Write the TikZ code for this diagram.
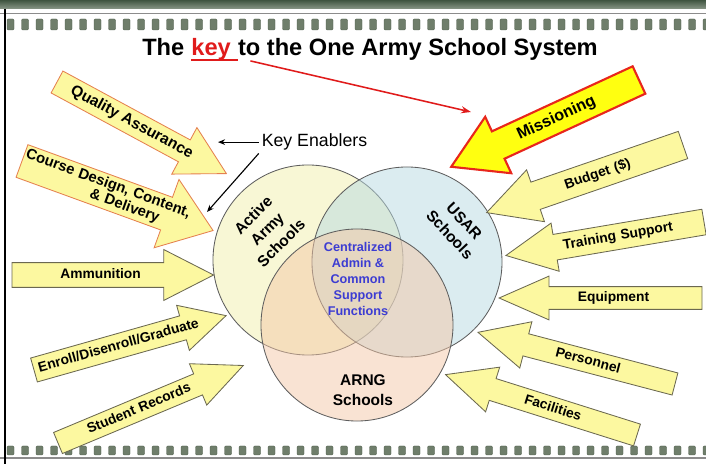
\documentclass[tikz,border=0pt]{standalone}
\usepackage{fontspec}
\setmainfont{Liberation Sans}
\setsansfont{Liberation Sans}
\usetikzlibrary{arrows.meta, shapes.arrows}
\definecolor{paleyellow}{HTML}{FCF8A0}
\definecolor{brightyellow}{HTML}{FFFF10}
\definecolor{edgegrey}{HTML}{6B6850}
\definecolor{orangeedge}{HTML}{E5804F}
\definecolor{missred}{HTML}{E8261C}
\definecolor{keyred}{HTML}{E01B1B}
\definecolor{ringgrey}{HTML}{5E5E5E}
\definecolor{coreblue}{HTML}{3C3CD2}
\definecolor{activefill}{HTML}{F1EFAB}
\definecolor{usarfill}{HTML}{B7D9E1}
\definecolor{arngfill}{HTML}{F3C7A7}
\definecolor{banddark}{HTML}{3F5440}
\definecolor{bandlight}{HTML}{8A9888}
\definecolor{rulegrey}{HTML}{8C8C8C}
\definecolor{strip}{HTML}{6F7E6B}
\definecolor{stripdark}{HTML}{4B5A48}
\tikzset{
  every picture/.style={font=\sffamily},
  enabler/.style={single arrow, draw=#1, fill=paleyellow, line width=0.6pt, inner xsep=0pt, outer sep=0pt,
    align=center, anchor=tail, font=\bfseries\fontsize{9.8}{11}\selectfont, text height=7.2pt, text depth=2pt},
  enabler/.default=edgegrey,
  inbound/.style={enabler=#1, shape border rotate=180},
  inbound/.default=edgegrey,
  bigtext/.style={font=\bfseries\fontsize{11}{13}\selectfont, text height=8pt, text depth=2.2pt},
  dims/.style n args={4}{text width=#1, inner ysep=#2, single arrow head extend=#3, single arrow tip angle=#4},
  venn/.style={circle, draw=ringgrey, line width=0.6pt, fill=#1, fill opacity=0.5, text opacity=1, inner sep=0pt, minimum size=4.75cm},
  school/.style={align=center, font=\bfseries\fontsize{11}{14}\selectfont},
  core/.style={align=center, text=coreblue, font=\bfseries\fontsize{9}{11.4}\selectfont},
  title/.style={inner sep=0pt, anchor=base west, font=\bfseries\fontsize{16.8}{20}\selectfont},
  pointer/.style={-{Stealth[length=5pt, width=4pt]}, line width=0.8pt},
}
\begin{document}
\begin{tikzpicture}[x=0.025cm, y=-0.025cm]
  \useasboundingbox (0,0) rectangle (706,464);
  % frame: shaded band, thin rules and the two rows of squares
  \shade[top color=banddark, bottom color=bandlight] (0,0) rectangle (706,9);
  \draw[rulegrey, line width=1.2pt] (0,13.5) -- (706,13.5);
  \draw[rulegrey, line width=1.2pt] (0,458) -- (706,458);
  \foreach \i in {0,...,48} {
    \filldraw[fill=strip, draw=stripdark, line width=0.3pt, rounded corners=0.8pt] (7+14.5*\i,19) rectangle ++(7,11);
    \filldraw[fill=strip, draw=stripdark, line width=0.3pt, rounded corners=0.8pt] (7+14.5*\i,446) rectangle ++(7,9);
  }
  \draw[line width=0.8pt] (5,9) -- (5,464);

  % title
  \node[title] (the) at (142,56) {The};
  \node[title, text=keyred] (key) at ([xshift=4.7pt]the.base east) {key\kern4.7pt};
  \node[title] (rest) at (key.base east) {to the One Army School System};
  \draw[keyred, line width=1.3pt] ([yshift=-3pt]key.base west) -- ([yshift=-3pt]key.base east);

  % the three school systems
  \node[venn=activefill] (active) at (308,260) {};
  \node[venn=usarfill] (usar) at (407,262) {};
  \node[venn=arngfill, minimum size=4.8cm] (arng) at (357,325) {};
  \node[school, rotate=45] (activelab) at (267,229) {Active\\Army\\Schools};
  \node[school, rotate=-47] (usarlab) at (457,228) {USAR\\Schools};
  \node[school] (arnglab) at (363,390) {ARNG\\Schools};
  \node[core] (corelab) at (358,279) {Centralized\\Admin \&\\Common\\Support\\Functions};

  % enablers on the left
  \node[enabler=orangeedge, bigtext, dims={4.23cm}{0.121cm}{0.35cm}{57.9}, rotate=-28.4] (quality) at (57,82) {Quality Assurance};
  \node[enabler=orangeedge, font=\bfseries\fontsize{10.5}{11}\selectfont, text height={}, text depth={}, align=left,
    dims={4.47cm}{0.058cm}{0.475cm}{72.6}, rotate=-20] (design) at (22,161)
    {\hspace*{1pt}Course Design, Content,\\\hspace*{1.87cm}\& Delivery};
  \node[enabler, dims={4.41cm}{0.138cm}{0.325cm}{54.1}] (ammo) at (12,275) {Ammunition};
  \node[enabler, dims={4.375cm}{0.138cm}{0.275cm}{55.2}, rotate=15.8] (enroll) at (34,370) {Enroll/Disenroll/Graduate};
  \node[enabler, dims={4.375cm}{0.113cm}{0.275cm}{49.2}, rotate=22.7] (records) at (58,443) {Student Records};

  % enablers on the right
  \node[inbound=missred, fill=brightyellow, line width=1.5pt, font=\bfseries\fontsize{11.5}{13}\selectfont, text height=8.3pt, text depth=2.3pt,
    dims={4.49cm}{0.164cm}{0.4cm}{61.9}, rotate=24.8] (mission) at (639,80) {Missioning};
  \node[inbound, dims={4.49cm}{0.188cm}{0.325cm}{55.8}, rotate=19] (budget) at (683,145) {Budget (\$)};
  \node[inbound, dims={4.34cm}{0.151cm}{0.2875cm}{52.2}, rotate=9.6] (training) at (704,222) {Training Support};
  \node[inbound, dims={4.4cm}{0.113cm}{0.2625cm}{47.4}] (equip) at (702,298) {Equipment};
  \node[inbound, dims={4.48cm}{0.113cm}{0.3125cm}{51.6}, rotate=-14.7] (personnel) at (675,384) {Personnel};
  \node[inbound, dims={4.395cm}{0.113cm}{0.3cm}{50.7}, rotate=-17.5] (facilities) at (637,435) {Facilities};

  % pointers
  \node[font=\fontsize{12.6}{15}\selectfont, inner sep=2pt, anchor=base] (keyen) at (314.5,146.7) {Key Enablers};
  \coordinate (qaend) at (218,143);
  \coordinate (cdend) at (207,212);
  \coordinate (keytip) at (471,112);
  \draw[pointer] (keyen.west) -- (keyen.west -| qaend);
  \draw[pointer] (keyen.south west) -- (cdend);
  \draw[keyred, line width=1.1pt, -{Stealth[length=7pt, width=5pt]}] ([xshift=9pt, yshift=-3.5pt]key.base east) -- (keytip);
\end{tikzpicture}
\end{document}
